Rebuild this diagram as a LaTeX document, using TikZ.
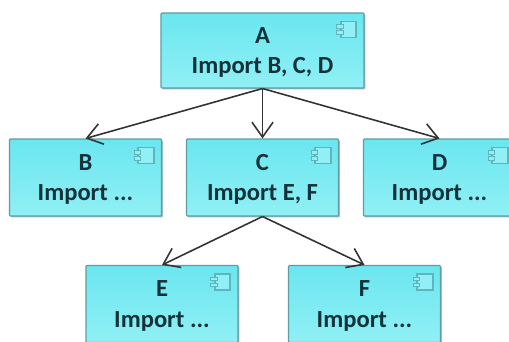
\documentclass[tikz,border=0pt]{standalone}
\usepackage{fontspec}
\setmainfont{Carlito}
\usetikzlibrary{calc, shadows, arrows.meta}
\definecolor{boxtop}{HTML}{6BE6EF}
\definecolor{boxbot}{HTML}{90F0F5}
\definecolor{boxline}{HTML}{5F9CA3}
\definecolor{icon}{HTML}{5FB4BE}
\definecolor{textdark}{HTML}{14323A}
\newcommand{\modtext}[2]{\rule{0pt}{11.5pt}#1\\#2}
\begin{document}
\begin{tikzpicture}[x=0.02cm, y=-0.02cm,
    module/.style={rectangle, draw=boxline, line width=0.6pt, top color=boxtop, bottom color=boxbot,
        rounded corners=0.5pt, minimum width=3.04cm, minimum height=1.54cm, align=center, inner sep=0pt,
        text=textdark, font=\fontsize{14}{17.3}\selectfont\bfseries,
        drop shadow={shadow xshift=0.8pt, shadow yshift=-0.8pt, opacity=0.6, fill=boxline}},
    iconbody/.style={rectangle, draw=icon, line width=1pt, fill=boxbot, minimum width=0.31cm, minimum height=0.32cm, inner sep=0pt},
    icontab/.style={rectangle, draw=icon, line width=0.6pt, fill=boxbot, minimum width=0.13cm, minimum height=0.07cm, inner sep=0pt},
    link/.style={->, >={Straight Barb[length=8.5pt, width=12pt]}, line width=0.9pt, draw=black!80}]
    \clip (0,0) rectangle (509,341);
    \fill[white] (0,0) rectangle (509,341);
    \node[module, minimum width=4.06cm, minimum height=1.5cm] (a) at (262.5,50.5) {\modtext{A}{Import B, C, D}};
    \node[module] (b) at (85.5,177.5) {\modtext{B}{Import ...}};
    \node[module] (c) at (262.5,177.5) {\modtext{C}{Import E, F}};
    \node[module] (d) at (439.5,177.5) {\modtext{D}{Import ...}};
    \node[module] (e) at (162,304) {\modtext{E}{Import ...}};
    \node[module] (f) at (364.5,304) {\modtext{F}{Import ...}};

    \draw[link] (a.south) -- (b.north);
    \draw[link] (a.south) -- (c.north);
    \draw[link] (a.south) -- (d.north);
    \draw[link] (c.south) -- (e.north);
    \draw[link] (c.south) -- (f.north);

    % small component mark in each box corner
    \foreach \n in {a,b,c,d,e,f} {
        \node[iconbody] (\n i) at ($(\n.north east)+(-16,17)$) {};
        \node[icontab] (\n s) at ($(\n i.west)+(0,-3)$) {};
        \node[icontab] (\n t) at ($(\n i.west)+(0,3)$) {};
    }
\end{tikzpicture}
\end{document}
